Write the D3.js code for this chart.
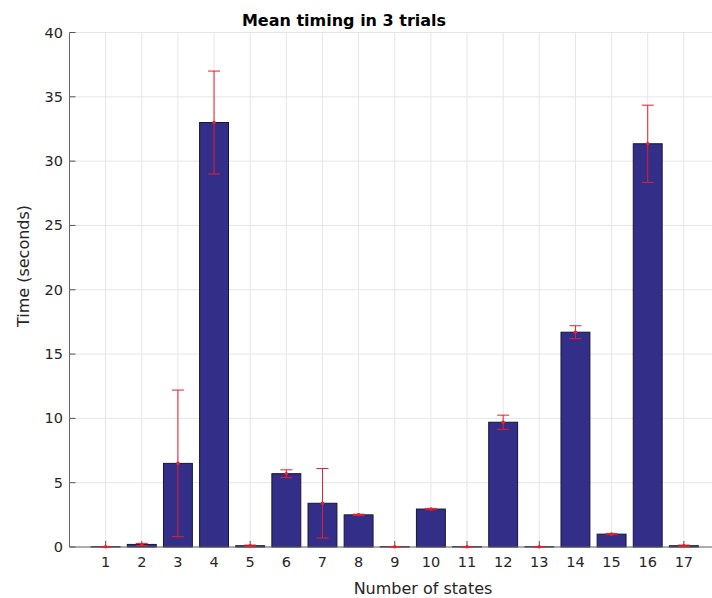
<!DOCTYPE html>
<html>
<head>
<meta charset="utf-8">
<script src="https://cdn.jsdelivr.net/npm/d3@7"></script>
<style>
  body { margin: 0; background: #fff; }
  svg { display: block; font-family: "DejaVu Sans", sans-serif; }
</style>
</head>
<body>
<svg id="chart" width="712" height="598"></svg>
<script>
// data
const states = [1, 2, 3, 4, 5, 6, 7, 8, 9, 10, 11, 12, 13, 14, 15, 16, 17];
const meanTime = [0.02, 0.2, 6.5, 33.0, 0.1, 5.7, 3.4, 2.5, 0.02, 2.95, 0.02, 9.7, 0.02, 16.7, 1.0, 31.35, 0.1];
const errTime = [0.02, 0.08, 5.7, 4.0, 0.05, 0.3, 2.7, 0.05, 0.02, 0.05, 0.02, 0.55, 0.02, 0.5, 0.05, 3.0, 0.05];
const yTicks = [0, 5, 10, 15, 20, 25, 30, 35, 40];

const svg = d3.select("#chart");

// axes box (right side runs past the window, like the reference)
const x = d3.scaleLinear().domain([0, 18]).range([69.5, 720]);
const y = d3.scaleLinear().domain([0, 40]).range([547, 32.5]);
const step = x(1) - x(0);
const barW = step * 0.8;

// grid
const gridG = svg.append("g")
gridG.selectAll(".vgrid")
  .data(states)
  .enter()
  .append("line")
  .attr("x1", d => x(d)).attr("x2", d => x(d))
  .attr("y1", y(40)).attr("y2", y(0))
  .attr("stroke", "#e6e6e6")
  .attr("stroke-width", 1)
gridG.selectAll(".hgrid")
  .data(yTicks)
  .enter()
  .append("line")
  .attr("x1", x(0)).attr("x2", x(18))
  .attr("y1", d => y(d)).attr("y2", d => y(d))
  .attr("stroke", "#e6e6e6")
  .attr("stroke-width", 1)

// ticks pointing inward
const tickG = svg.append("g")
tickG.selectAll(".xtick")
  .data(states)
  .enter()
  .append("line")
  .attr("x1", d => x(d)).attr("x2", d => x(d))
  .attr("y1", y(0)).attr("y2", y(0) - 6)
  .attr("stroke", "#555")
tickG.selectAll(".ytick")
  .data(yTicks)
  .enter()
  .append("line")
  .attr("x1", x(0)).attr("x2", x(0) + 6)
  .attr("y1", d => y(d)).attr("y2", d => y(d))
  .attr("stroke", "#555")

// bars
svg.append("g")
  .selectAll("rect")
  .data(states)
  .enter()
  .append("rect")
  .attr("x", d => x(d) - barW / 2)
  .attr("y", (d, i) => y(meanTime[i]))
  .attr("width", barW)
  .attr("height", (d, i) => y(0) - y(meanTime[i]))
  .attr("fill", "#332e88")
  .attr("stroke", "#15153a")
  .attr("stroke-width", 1)

// axis lines
svg.append("line")
  .attr("x1", x(0)).attr("x2", x(0))
  .attr("y1", y(40)).attr("y2", y(0))
  .attr("stroke", "#666")
svg.append("line")
  .attr("x1", x(0)).attr("x2", x(18))
  .attr("y1", y(0)).attr("y2", y(0))
  .attr("stroke", "#666")

// error bars
const errG = svg.append("g")
  .selectAll("g")
  .data(states)
  .enter()
  .append("g")
  .attr("stroke", "#e5202c")
  .attr("stroke-width", 1)
errG.append("line")
  .attr("x1", d => x(d)).attr("x2", d => x(d))
  .attr("y1", (d, i) => y(meanTime[i] - errTime[i]))
  .attr("y2", (d, i) => y(meanTime[i] + errTime[i]))
errG.append("line")
  .attr("x1", d => x(d) - 6).attr("x2", d => x(d) + 6)
  .attr("y1", (d, i) => y(meanTime[i] + errTime[i]))
  .attr("y2", (d, i) => y(meanTime[i] + errTime[i]))
errG.append("line")
  .attr("x1", d => x(d) - 6).attr("x2", d => x(d) + 6)
  .attr("y1", (d, i) => y(meanTime[i] - errTime[i]))
  .attr("y2", (d, i) => y(meanTime[i] - errTime[i]))
errG.append("circle")
  .attr("cx", d => x(d))
  .attr("cy", (d, i) => y(meanTime[i]))
  .attr("r", 1.8)
  .attr("fill", "#e5202c")
  .attr("stroke", "none")

// tick labels
svg.append("g")
  .selectAll("text")
  .data(states)
  .enter()
  .append("text")
  .attr("x", d => x(d))
  .attr("y", 567)
  .attr("text-anchor", "middle")
  .attr("font-size", 14.5)
  .attr("fill", "#262626")
  .text(d => d)
svg.append("g")
  .selectAll("text")
  .data(yTicks)
  .enter()
  .append("text")
  .attr("x", 63)
  .attr("y", d => y(d) + 5)
  .attr("text-anchor", "end")
  .attr("font-size", 14.5)
  .attr("fill", "#262626")
  .text(d => d)

// labels
svg.append("text")
  .attr("x", 344)
  .attr("y", 26)
  .attr("text-anchor", "middle")
  .attr("font-size", 16)
  .attr("font-weight", "bold")
  .attr("fill", "#000")
  .text("Mean timing in 3 trials")
svg.append("text")
  .attr("x", 423)
  .attr("y", 594)
  .attr("text-anchor", "middle")
  .attr("font-size", 16)
  .attr("fill", "#262626")
  .text("Number of states")
svg.append("text")
  .attr("transform", "translate(29,266) rotate(-90)")
  .attr("text-anchor", "middle")
  .attr("font-size", 16)
  .attr("fill", "#262626")
  .text("Time (seconds)")
</script>
</body>
</html>
